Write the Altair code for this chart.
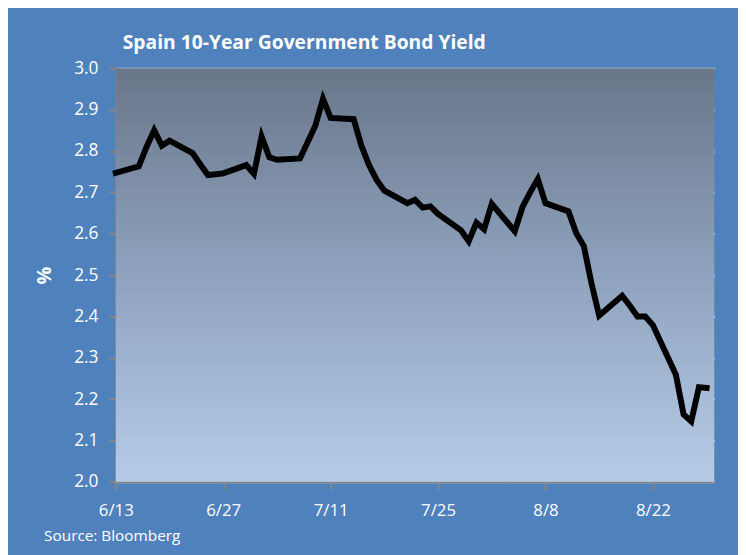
import altair as alt
import pandas as pd

dates = [
    "2014-06-13", "2014-06-16", "2014-06-17", "2014-06-18", "2014-06-19", "2014-06-20",
    "2014-06-23", "2014-06-24", "2014-06-25", "2014-06-26", "2014-06-27",
    "2014-06-30", "2014-07-01", "2014-07-02", "2014-07-03", "2014-07-04",
    "2014-07-07", "2014-07-08", "2014-07-09", "2014-07-10", "2014-07-11",
    "2014-07-14", "2014-07-15", "2014-07-16", "2014-07-17", "2014-07-18",
    "2014-07-21", "2014-07-22", "2014-07-23", "2014-07-24", "2014-07-25",
    "2014-07-28", "2014-07-29", "2014-07-30", "2014-07-31", "2014-08-01",
    "2014-08-04", "2014-08-05", "2014-08-06", "2014-08-07", "2014-08-08",
    "2014-08-11", "2014-08-12", "2014-08-13", "2014-08-14", "2014-08-15",
    "2014-08-18", "2014-08-19", "2014-08-20", "2014-08-21", "2014-08-22",
    "2014-08-25", "2014-08-26", "2014-08-27", "2014-08-28", "2014-08-29",
]
yields = [
    2.747, 2.763, 2.810, 2.850, 2.813, 2.825,
    2.795, 2.768, 2.742, 2.744, 2.746,
    2.766, 2.745, 2.835, 2.785, 2.779,
    2.782, 2.821, 2.861, 2.926, 2.880,
    2.877, 2.813, 2.766, 2.730, 2.704,
    2.674, 2.682, 2.663, 2.666, 2.648,
    2.608, 2.582, 2.627, 2.611, 2.672,
    2.606, 2.664, 2.700, 2.732, 2.674,
    2.654, 2.602, 2.570, 2.480, 2.402,
    2.450, 2.426, 2.400, 2.400, 2.379,
    2.259, 2.163, 2.146, 2.229, 2.227,
]
x_ticks = [(6, 13), (6, 27), (7, 11), (7, 25), (8, 8), (8, 22)]
x_range = [(6, 13), (8, 30)]
y_ticks = [2.0, 2.1, 2.2, 2.3, 2.4, 2.5, 2.6, 2.7, 2.8, 2.9, 3.0]
y_range = [2.0, 3.0]

title_text = "Spain 10-Year Government Bond Yield"
y_title = "%"
source_text = "Source: Bloomberg"

df = pd.DataFrame({"date": dates, "yield": yields})

FONT = "Open Sans"
BG = "#4F81BD"


def dt(md):
    return alt.DateTime(year=2014, month=md[0], date=md[1], utc=True)


x_scale = alt.Scale(type="utc", domain=[dt(x_range[0]), dt(x_range[1])], nice=False)
y_scale = alt.Scale(domain=y_range, nice=False, zero=False)

x_axis = alt.Axis(
    values=[dt(t) for t in x_ticks],
    labelExpr="utcFormat(datum.value, '%-m/%-d')",
    grid=False,
    domain=True,
    domainColor="#868686",
    domainWidth=2,
    ticks=True,
    tickColor="#868686",
    tickWidth=2,
    tickSize=8,
    labelColor="white",
    labelFont=FONT,
    labelFontSize=17,
    labelPadding=13,
    labelFlush=False,
    title=source_text,
    titleColor="white",
    titleFont=FONT,
    titleFontSize=15.5,
    titleFontWeight="normal",
    titleAlign="left",
    titleBaseline="alphabetic",
    titleX=-73,
    titleY=59,
)
y_axis = alt.Axis(
    values=y_ticks,
    format=".1f",
    grid=True,
    gridColor="#D9D9D9",
    gridWidth=2,
    domain=True,
    domainColor="#868686",
    domainWidth=2,
    ticks=True,
    tickColor="#868686",
    tickWidth=2,
    tickSize=7,
    labelColor="white",
    labelFont=FONT,
    labelFontSize=17.5,
    labelPadding=11,
    title=y_title,
    titleColor="white",
    titleFont=FONT,
    titleFontSize=20,
    titleFontWeight="bold",
    titleAngle=270,
    titleAlign="center",
    titleBaseline="middle",
    titleX=-72,
    titleY=209,
)

gradient = alt.LinearGradient(
    gradient="linear",
    x1=0, x2=0, y1=0, y2=1,
    stops=[
        alt.GradientStop(offset=0, color="#69768A"),
        alt.GradientStop(offset=0.5, color="#8FA3BE"),
        alt.GradientStop(offset=1, color="#B5CBE6"),
    ],
)

panel = (
    alt.Chart(pd.DataFrame({"k": [0]}))
    .mark_rect(color=gradient, strokeWidth=0)
    .encode(
        x=alt.X(datum=dt(x_range[0]), type="temporal", scale=x_scale, axis=x_axis),
        x2=alt.X2(datum=dt(x_range[1])),
        y=alt.Y(datum=y_range[0], type="quantitative", scale=y_scale, axis=y_axis),
        y2=alt.Y2(datum=y_range[1]),
    )
)

line = (
    alt.Chart(df)
    .mark_line(color="black", strokeWidth=6, strokeJoin="miter", strokeCap="square", clip=False)
    .encode(
        x=alt.X("date:T", scale=x_scale, axis=x_axis),
        y=alt.Y("yield:Q", scale=y_scale, axis=y_axis),
    )
)

chart = (
    alt.layer(panel, line)
    .properties(
        width=605,
        height=418,
        title=alt.TitleParams(
            text=title_text,
            color="white",
            font=FONT,
            fontSize=19.5,
            fontWeight="bold",
            anchor="start",
            frame="group",
            dx=7,
            offset=6,
        ),
        background=BG,
        autosize=alt.AutoSizeParams(type="none"),
        padding={"left": 109, "top": 58, "right": 24, "bottom": 71},
    )
    .configure_view(stroke=None)
)

chart.save("out.html", embed_options={"renderer": "svg", "actions": False})
